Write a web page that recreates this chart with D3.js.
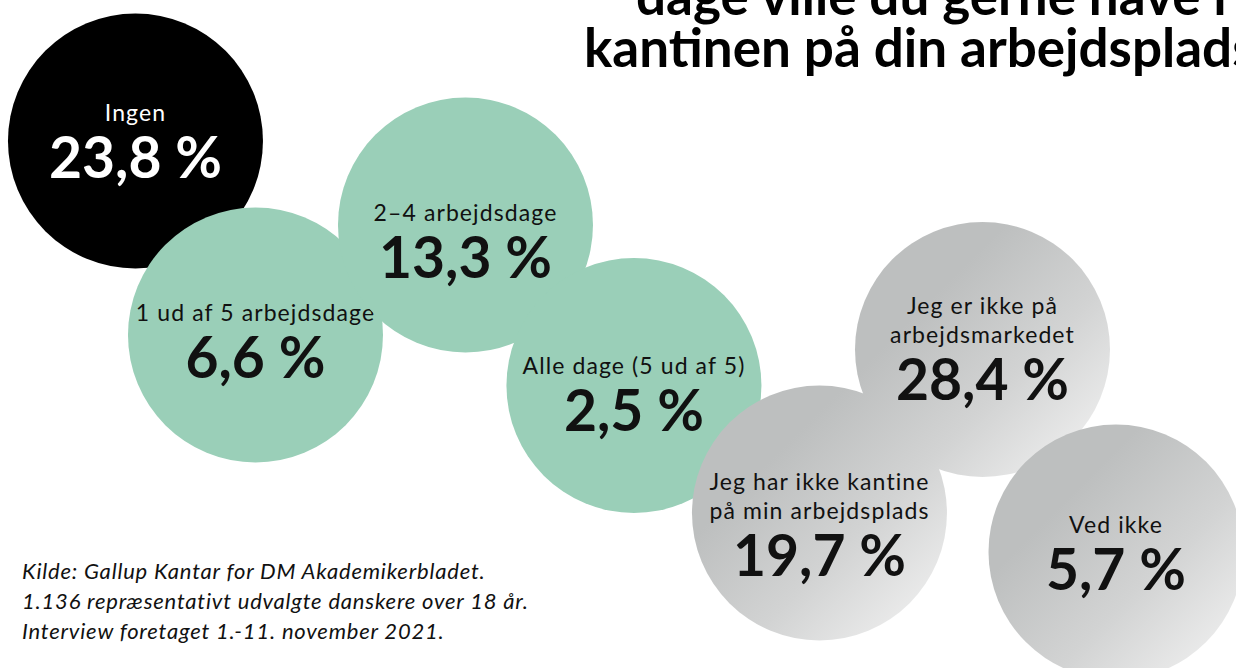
<!DOCTYPE html>
<html>
<head>
<meta charset="utf-8">
<script src="https://cdn.jsdelivr.net/npm/d3@7"></script>
<style>
  body { margin: 0; background: #fff; }
  svg { display: block; }
</style>
</head>
<body>
<div id="main"></div>
<script>
const ctx = {
    w: 1236,
    h: 668,
};

// answers, in drawing order
const labels = [
    ["Ingen"],
    ["1 ud af 5 arbejdsdage"],
    ["2–4 arbejdsdage"],
    ["Alle dage (5 ud af 5)"],
    ["Jeg har ikke kantine", "på min arbejdsplads"],
    ["Jeg er ikke på", "arbejdsmarkedet"],
    ["Ved ikke"],
];
const values = [23.8, 6.6, 13.3, 2.5, 19.7, 28.4, 5.7];
const groups = ["none", "days", "days", "days", "other", "other", "other"];

const titleLines = [
    "dage ville du gerne have i",
    "kantinen på din arbejdsplads?",
];
const sourceLines = [
    "Kilde: Gallup Kantar for DM Akademikerbladet.",
    "1.136 repræsentativt udvalgte danskere over 18 år.",
    "Interview foretaget 1.-11. november 2021.",
];

// bubble layout slots (0..1 of the canvas) and where the number sits
const slotX = [0.1096, 0.2067, 0.3766, 0.5129, 0.6630, 0.7949, 0.9029];
const slotY = [0.2111, 0.5015, 0.3368, 0.5771, 0.7680, 0.5232, 0.8263];
const numDy = [37, 43, 53, 45, 63, 51, 38];

const fmt = v => d3.format(".1f")(v).replace(".", ",") + " %";

function createViz() {
    let svg = d3.select("#main").append("svg")
        .attr("width", ctx.w)
        .attr("height", ctx.h);

    let x = d3.scaleLinear().domain([0, 1]).range([0, ctx.w]);
    let y = d3.scaleLinear().domain([0, 1]).range([0, ctx.h]);
    const r = 127.5;

    let defs = svg.append("defs");
    let grad = defs.append("linearGradient")
        .attr("id", "grey")
        .attr("x1", 0.3).attr("y1", 0.3)
        .attr("x2", 1).attr("y2", 1);
    grad.append("stop").attr("offset", 0).attr("stop-color", "#bdbfbf");
    grad.append("stop").attr("offset", 0.45).attr("stop-color", "#d2d3d3");
    grad.append("stop").attr("offset", 1).attr("stop-color", "#f6f6f6");

    const fill = d3.scaleOrdinal()
        .domain(["none", "days", "other"])
        .range(["#000000", "#9acfb8", "url(#grey)"]);
    const ink = d3.scaleOrdinal()
        .domain(["none", "days", "other"])
        .range(["#ffffff", "#111111", "#111111"]);

    // title (runs off the top right like the original)
    svg.append("g").selectAll("text")
        .data(titleLines)
        .enter().append("text")
        .attr("x", (d, i) => i == 0 ? 636 : 584)
        .attr("y", (d, i) => 15 + i * 52)
        .style("font-family", "Lato, 'Noto Sans', sans-serif")
        .style("font-weight", 700)
        .style("font-size", "53px")
        .style("fill", "#000")
        .text(d => d);

    let data = values.map((v, i) => ({
        value: v, label: labels[i], group: groups[i],
        cx: x(slotX[i]), cy: y(slotY[i]), dy: numDy[i]
    }));

    let nodes = svg.selectAll("g.bubble")
        .data(data)
        .enter().append("g")
        .attr("class", "bubble")
        .attr("transform", d => `translate(${d.cx},${d.cy})`);

    nodes.append("circle")
        .attr("r", r)
        .style("fill", d => fill(d.group));

    nodes.each(function(d) {
        let g = d3.select(this);
        let n = d.label.length;
        d.label.forEach((line, i) => {
            g.append("text")
                .attr("x", 0)
                .attr("y", d.dy - 57 - (n - 1 - i) * 29)
                .attr("text-anchor", "middle")
                .style("font-family", "Lato, 'Noto Sans', sans-serif")
                .style("font-size", "23px")
                .style("letter-spacing", "1.1px")
                .style("fill", ink(d.group))
                .text(line);
        });
        g.append("text")
            .attr("x", 0)
            .attr("y", d.dy)
            .attr("text-anchor", "middle")
            .style("font-family", "Lato, 'Noto Sans', sans-serif")
            .style("font-weight", 700)
            .style("font-size", "57px")
            .style("fill", ink(d.group))
            .text(fmt(d.value));
    });

    svg.append("g").selectAll("text")
        .data(sourceLines)
        .enter().append("text")
        .attr("x", 22)
        .attr("y", (d, i) => 579 + i * 30)
        .style("font-family", "Lato, 'Noto Sans', sans-serif")
        .style("font-style", "italic")
        .style("font-size", "22px")
        .style("letter-spacing", "0.8px")
        .style("fill", "#111")
        .text(d => d);
}

createViz();
</script>
</body>
</html>
